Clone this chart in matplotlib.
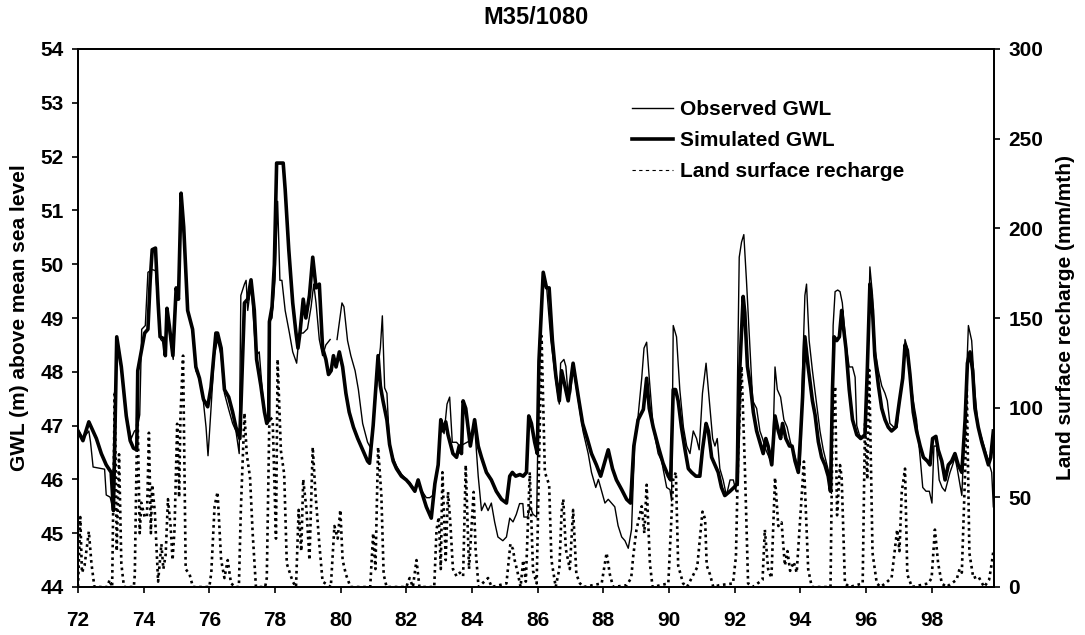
import numpy as np
import matplotlib
matplotlib.use('Agg')
import matplotlib.pyplot as plt
from matplotlib.lines import Line2D

plt.rcParams['font.family'] = ['Liberation Sans', 'DejaVu Sans']
plt.rcParams['font.weight'] = 'bold'

# observed groundwater level (m)
obs_year = [72.00, 72.15, 72.33, 72.38, 72.46, 72.81, 72.86, 72.98, 73.06, 73.18, 73.32, 73.47, 73.62, 73.72, 73.80,
            73.88, 73.94, 74.05, 74.13, 74.26, 74.36, 74.44, 74.52, 74.60, 74.66, 74.71, 74.80, 74.90, 74.99, 75.06,
            75.14, 75.24, 75.34, 75.49, 75.59, 75.70, 75.82, 75.90, 75.96, 76.05, 76.15, 76.25, 76.36, 76.46, 76.59,
            76.71, 76.81, 76.91, 76.96, 77.07, 77.12, 77.17, 77.27, 77.42, 77.52, 77.62, 77.71, 77.77, 77.83, 77.91,
            78.00, 78.08, 78.15, 78.21, 78.31, 78.44, 78.54, 78.66, 78.74, 78.86, 78.99, 79.10, 79.18, 79.25, 79.35,
            79.45, 79.55, 79.68, 79.78, 79.89, 80.04, 80.10, 80.21, 80.31, 80.44, 80.54, 80.67, 80.82, 80.90, 81.00,
            81.14, 81.21, 81.27, 81.34, 81.41, 81.49, 81.60, 81.70, 81.85, 82.00, 82.10, 82.26, 82.36, 82.46, 82.61,
            82.71, 82.80, 82.87, 82.97, 83.05, 83.15, 83.24, 83.32, 83.40, 83.53, 83.63, 83.73, 83.88, 83.95, 84.08,
            84.19, 84.29, 84.39, 84.49, 84.59, 84.69, 84.79, 84.94, 85.05, 85.15, 85.25, 85.35, 85.45, 85.55, 85.58,
            85.70, 85.76, 85.86, 85.97, 86.05, 86.17, 86.27, 86.40, 86.55, 86.66, 86.70, 86.80, 86.86, 86.93, 87.00,
            87.08, 87.24, 87.38, 87.54, 87.64, 87.77, 87.85, 87.95, 88.05, 88.15, 88.25, 88.35, 88.45, 88.56, 88.66,
            88.76, 88.86, 88.96, 89.06, 89.17, 89.24, 89.32, 89.40, 89.52, 89.67, 89.78, 89.82, 89.93, 90.03, 90.08,
            90.13, 90.23, 90.33, 90.44, 90.54, 90.64, 90.74, 90.84, 90.92, 91.02, 91.13, 91.23, 91.33, 91.40, 91.47,
            91.55, 91.65, 91.75, 91.86, 91.96, 92.04, 92.14, 92.21, 92.28, 92.36, 92.45, 92.55, 92.67, 92.77, 92.85,
            92.95, 93.05, 93.15, 93.23, 93.30, 93.40, 93.50, 93.60, 93.70, 93.81, 93.91, 94.00, 94.07, 94.14, 94.19,
            94.27, 94.37, 94.50, 94.60, 94.70, 94.80, 94.90, 94.95, 95.00, 95.06, 95.14, 95.21, 95.28, 95.39, 95.49,
            95.59, 95.67, 95.72, 95.80, 95.90, 96.00, 96.12, 96.20, 96.27, 96.38, 96.48, 96.58, 96.65, 96.73, 96.85,
            96.95, 97.02, 97.12, 97.19, 97.26, 97.34, 97.44, 97.54, 97.65, 97.73, 97.83, 97.93, 98.01, 98.07, 98.15,
            98.23, 98.32, 98.41, 98.56, 98.64, 98.71, 98.78, 98.92, 99.02, 99.12, 99.22, 99.32, 99.42, 99.53, 99.63,
            99.73, 99.83, 99.88]
obs_gwl = [46.93, 46.76, 46.90, 46.70, 46.23, 46.19, 45.71, 45.67, 45.45, 48.60, 48.05, 47.18, 46.76, 46.90, 46.93,
           47.20, 48.79, 48.86, 49.85, 49.90, 49.88, 49.25, 48.60, 48.55, 48.30, 49.10, 48.65, 48.23, 49.45, 49.35,
           50.90, 50.48, 49.14, 48.79, 48.02, 47.88, 47.44, 46.97, 46.44, 47.30, 48.30, 48.60, 48.30, 47.60, 47.30,
           47.04, 46.90, 46.48, 49.42, 49.63, 49.70, 49.14, 49.63, 48.30, 48.37, 47.60, 47.18, 47.10, 48.93, 49.00,
           49.70, 51.17, 49.70, 49.70, 49.14, 48.72, 48.37, 48.16, 48.72, 48.72, 48.80, 49.21, 49.63, 49.28, 48.60,
           48.30, 48.50, 48.60, np.nan, 48.60, 49.28, 49.21, 48.58, 48.30, 48.02, 47.67, 47.04, 46.69, 46.60, 47.05,
           48.10, 48.45, 49.04, 47.70, 47.60, 46.62, 46.40, 46.25, 46.10, 46.00, 45.95, 45.80, 45.92, 45.80, 45.66,
           45.66, 45.70, 45.95, 46.27, 47.11, 46.85, 47.40, 47.53, 46.69, 46.69, 46.62, 46.65, 46.70, 46.75, 47.00,
           46.06, 45.42, 45.56, 45.42, 45.56, 45.21, 44.93, 44.86, 44.93, 45.28, 45.21, 45.35, 45.55, 45.55, 45.30,
           45.30, 45.50, 45.35, 45.30, 48.50, 49.85, 49.60, 48.60, 47.85, 47.40, 48.16, 48.23, 48.10, 47.55, 47.60,
           48.10, 47.46, 46.90, 46.48, 46.13, 45.85, 46.00, 45.78, 45.56, 45.63, 45.56, 45.49, 45.14, 44.93, 44.86,
           44.72, 45.07, 46.76, 47.18, 47.88, 48.44, 48.55, 47.88, 46.97, 46.48, 46.34, 46.20, 45.85, 45.81, 45.60,
           48.86, 48.65, 47.67, 46.97, 46.62, 46.48, 46.90, 46.76, 46.55, 47.60, 48.16, 47.46, 46.76, 46.62, 46.76,
           46.20, 45.99, 45.70, 45.99, 45.99, 45.78, 50.13, 50.41, 50.55, 49.70, 48.65, 47.46, 47.32, 46.90, 46.76,
           46.55, 46.41, 46.27, 48.09, 47.67, 47.53, 47.11, 46.97, 46.69, 46.48, 46.27, 46.27, 48.02, 49.42, 49.63,
           48.58, 48.02, 47.39, 46.90, 46.55, 46.30, 46.06, 45.74, 48.86, 49.49, 49.52, 49.49, 49.28, 48.50, 48.09,
           48.09, 47.90, 47.00, 46.83, 46.76, 46.90, 49.95, 49.42, 48.44, 48.02, 47.74, 47.60, 47.46, 47.04, 46.97,
           46.97, 47.46, 47.88, 48.60, 48.45, 47.95, 47.46, 47.11, 46.41, 45.85, 45.78, 45.78, 45.56, 46.62, 46.62,
           45.99, 45.85, 45.78, 46.13, 46.27, 46.41, 46.20, 45.70, 47.20, 48.86, 48.58, 47.60, 46.97, 46.76, 46.55,
           46.34, 46.13, 45.49]

# simulated groundwater level (m)
sim_year = [72.00, 72.15, 72.33, 72.56, 72.71, 72.86, 73.01, 73.08, 73.18, 73.32, 73.47, 73.59, 73.69, 73.79, 73.82,
            74.03, 74.13, 74.20, 74.26, 74.36, 74.44, 74.50, 74.60, 74.66, 74.71, 74.78, 74.89, 74.99, 75.06, 75.14,
            75.22, 75.34, 75.49, 75.59, 75.70, 75.82, 75.95, 76.05, 76.20, 76.25, 76.36, 76.46, 76.59, 76.71, 76.81,
            76.93, 77.07, 77.17, 77.27, 77.37, 77.44, 77.57, 77.68, 77.75, 77.81, 77.83, 77.91, 77.98, 78.05, 78.15,
            78.25, 78.31, 78.42, 78.54, 78.64, 78.70, 78.76, 78.86, 78.94, 79.05, 79.15, 79.25, 79.35, 79.45, 79.55,
            79.63, 79.71, 79.78, 79.86, 79.96, 80.06, 80.16, 80.26, 80.39, 80.52, 80.67, 80.82, 80.88, 80.99, 81.14,
            81.21, 81.29, 81.41, 81.49, 81.60, 81.70, 81.85, 82.00, 82.10, 82.26, 82.36, 82.46, 82.61, 82.71, 82.76,
            82.87, 82.97, 83.05, 83.12, 83.20, 83.27, 83.42, 83.53, 83.61, 83.68, 83.73, 83.81, 83.88, 83.95, 84.08,
            84.19, 84.29, 84.44, 84.59, 84.74, 84.90, 85.05, 85.15, 85.23, 85.33, 85.46, 85.56, 85.66, 85.73, 85.81,
            85.91, 85.99, 86.04, 86.17, 86.27, 86.35, 86.45, 86.55, 86.66, 86.73, 86.83, 86.93, 87.08, 87.24, 87.37,
            87.51, 87.64, 87.79, 87.92, 88.02, 88.15, 88.28, 88.40, 88.56, 88.71, 88.83, 88.93, 89.06, 89.22, 89.32,
            89.40, 89.52, 89.67, 89.82, 89.98, 90.05, 90.13, 90.20, 90.28, 90.38, 90.49, 90.59, 90.69, 90.82, 90.94,
            91.02, 91.13, 91.20, 91.30, 91.40, 91.50, 91.60, 91.70, 91.86, 91.98, 92.08, 92.16, 92.26, 92.31, 92.39,
            92.49, 92.57, 92.67, 92.77, 92.87, 92.95, 93.02, 93.13, 93.23, 93.33, 93.40, 93.46, 93.56, 93.67, 93.75,
            93.84, 93.94, 94.01, 94.07, 94.14, 94.24, 94.37, 94.45, 94.55, 94.65, 94.75, 94.85, 94.92, 94.98, 95.03,
            95.11, 95.19, 95.26, 95.30, 95.39, 95.49, 95.59, 95.72, 95.84, 95.97, 96.04, 96.12, 96.20, 96.27, 96.38,
            96.48, 96.58, 96.68, 96.78, 96.91, 97.02, 97.12, 97.19, 97.26, 97.34, 97.44, 97.54, 97.65, 97.75, 97.87,
            97.95, 98.03, 98.13, 98.20, 98.31, 98.41, 98.51, 98.61, 98.71, 98.81, 98.92, 99.02, 99.09, 99.17, 99.25,
            99.32, 99.42, 99.53, 99.63, 99.73, 99.80, 99.88]
sim_gwl = [46.90, 46.72, 47.07, 46.76, 46.48, 46.27, 46.13, 45.42, 48.65, 48.09, 47.18, 46.72, 46.58, 46.55, 48.02,
           48.72, 48.79, 49.71, 50.27, 50.30, 49.28, 48.65, 48.62, 48.30, 49.18, 48.86, 48.30, 49.56, 49.35, 51.32,
           50.69, 49.14, 48.79, 48.09, 47.88, 47.49, 47.35, 47.71, 48.72, 48.72, 48.44, 47.67, 47.53, 47.25, 46.97,
           46.76, 49.28, 49.35, 49.71, 49.14, 48.23, 47.74, 47.25, 47.04, 47.11, 48.93, 49.21, 49.99, 51.88, 51.88,
           51.88, 51.39, 50.27, 49.28, 48.72, 48.44, 48.72, 49.35, 49.00, 49.42, 50.13, 49.56, 49.63, 48.44, 48.23,
           47.95, 48.02, 48.30, 48.09, 48.37, 48.09, 47.60, 47.25, 46.97, 46.76, 46.55, 46.34, 46.30, 47.00, 48.30,
           47.74, 47.46, 47.10, 46.65, 46.34, 46.20, 46.06, 45.99, 45.92, 45.78, 45.99, 45.78, 45.49, 45.35, 45.28,
           45.92, 46.27, 47.11, 46.90, 47.07, 46.83, 46.48, 46.41, 46.62, 46.48, 47.46, 47.32, 46.97, 46.62, 47.11,
           46.62, 46.41, 46.13, 45.99, 45.78, 45.63, 45.56, 46.06, 46.13, 46.06, 46.09, 46.06, 46.13, 47.18, 47.04,
           46.69, 46.48, 48.20, 49.85, 49.56, 49.56, 48.58, 47.95, 47.46, 48.02, 47.74, 47.46, 48.16, 47.53, 47.04,
           46.76, 46.48, 46.27, 46.06, 46.27, 46.55, 46.20, 45.99, 45.81, 45.63, 45.56, 46.62, 47.11, 47.30, 47.88,
           47.32, 46.97, 46.62, 46.30, 46.06, 45.99, 47.67, 47.67, 47.46, 46.97, 46.55, 46.20, 46.13, 46.06, 46.06,
           46.55, 47.04, 46.90, 46.41, 46.27, 46.13, 45.85, 45.70, 45.78, 45.85, 45.92, 48.09, 49.40, 49.10, 48.10,
           47.70, 47.25, 46.90, 46.69, 46.48, 46.76, 46.62, 46.27, 47.18, 46.90, 46.76, 47.04, 46.76, 46.62, 46.62,
           46.34, 46.13, 46.83, 47.53, 48.65, 48.09, 47.46, 47.20, 46.70, 46.41, 46.27, 46.06, 45.78, 47.67, 48.65,
           48.58, 48.65, 49.14, 48.90, 48.44, 47.67, 47.11, 46.83, 46.76, 46.83, 48.02, 49.63, 49.14, 48.30, 47.74,
           47.32, 47.11, 46.97, 46.90, 46.97, 47.46, 47.88, 48.50, 48.40, 47.95, 47.25, 46.90, 46.62, 46.41, 46.34,
           46.27, 46.76, 46.80, 46.55, 46.34, 45.99, 46.27, 46.34, 46.48, 46.27, 46.13, 47.11, 48.16, 48.37, 48.02,
           47.32, 46.97, 46.69, 46.48, 46.27, 46.41, 46.90]

# land surface recharge (mm/mth)
rch_year = [72.00, 72.07, 72.12, 72.20, 72.33, 72.41, 72.50, 72.90, 72.96, 73.04, 73.12, 73.18, 73.25, 73.32, 73.40,
            73.70, 73.73, 73.81, 73.88, 73.93, 74.03, 74.10, 74.16, 74.22, 74.26, 74.34, 74.44, 74.54, 74.60, 74.67,
            74.74, 74.82, 74.88, 74.94, 75.02, 75.08, 75.12, 75.20, 75.28, 75.40, 75.50, 76.00, 76.06, 76.16, 76.25,
            76.36, 76.46, 76.56, 76.66, 76.80, 76.90, 76.96, 77.07, 77.14, 77.24, 77.32, 77.42, 77.70, 77.75, 77.83,
            77.93, 78.03, 78.08, 78.18, 78.28, 78.36, 78.54, 78.64, 78.72, 78.80, 78.86, 78.96, 79.05, 79.15, 79.23,
            79.35, 79.45, 79.70, 79.81, 79.91, 79.99, 80.06, 80.16, 80.30, 80.90, 80.99, 81.06, 81.14, 81.24, 81.31,
            81.40, 82.00, 82.10, 82.20, 82.31, 82.40, 82.85, 82.92, 82.99, 83.05, 83.10, 83.20, 83.27, 83.34, 83.42,
            83.53, 83.63, 83.73, 83.81, 83.91, 84.05, 84.11, 84.20, 84.49, 84.60, 85.05, 85.17, 85.25, 85.30, 85.38,
            85.48, 85.56, 85.64, 85.76, 85.86, 85.97, 86.05, 86.12, 86.22, 86.35, 86.42, 86.55, 86.66, 86.73, 86.78,
            86.86, 86.98, 87.08, 87.18, 87.29, 87.40, 87.95, 88.10, 88.20, 88.30, 88.71, 88.85, 88.91, 89.01, 89.17,
            89.25, 89.32, 89.42, 89.50, 89.98, 90.13, 90.21, 90.28, 90.43, 90.55, 90.86, 91.02, 91.10, 91.15, 91.25,
            91.35, 91.53, 91.95, 92.04, 92.11, 92.21, 92.31, 92.41, 92.55, 92.85, 92.92, 93.02, 93.12, 93.23, 93.33,
            93.43, 93.53, 93.61, 93.69, 93.80, 93.89, 94.01, 94.11, 94.24, 94.35, 94.92, 94.98, 95.06, 95.12, 95.21,
            95.26, 95.36, 95.50, 95.90, 95.97, 96.04, 96.10, 96.20, 96.33, 96.45, 96.78, 96.95, 97.02, 97.09, 97.19,
            97.26, 97.40, 97.90, 98.00, 98.10, 98.20, 98.31, 98.45, 98.76, 98.85, 98.92, 99.02, 99.07, 99.15, 99.27,
            99.42, 99.60, 99.75, 99.83, 99.88]
rch_mm = [0, 39, 8, 12, 31, 13, 0, 0, 4, 0, 109, 20, 74, 13, 0,
          0, 7, 101, 30, 47, 39, 39, 86, 30, 57, 42, 3, 24, 10, 18,
          49, 34, 15, 32, 91, 50, 95, 129, 10, 7, 0, 0, 8, 45, 53,
          15, 5, 15, 2, 0, 0, 43, 97, 74, 61, 30, 0, 0, 5, 95,
          93, 27, 127, 76, 63, 13, 3, 0, 43, 20, 60, 43, 15, 78, 53,
          24, 3, 0, 34, 27, 43, 15, 7, 0, 0, 30, 10, 78, 51, 7,
          0, 0, 5, 0, 15, 0, 0, 32, 39, 10, 64, 15, 53, 36, 10,
          6, 8, 6, 68, 10, 53, 21, 0, 5, 0, 2, 24, 21, 15, 9,
          0, 15, 3, 64, 9, 2, 74, 140, 64, 57, 15, 0, 10, 42, 49,
          21, 10, 43, 7, 2, 0, 2, 19, 7, 0, 1, 5, 17, 32, 45,
          30, 57, 13, 0, 2, 60, 64, 12, 2, 0, 11, 42, 38, 12, 7,
          0, 1, 2, 17, 76, 123, 68, 2, 0, 4, 32, 10, 5, 61, 34,
          36, 12, 20, 9, 14, 8, 42, 70, 10, 0, 0, 87, 112, 40, 68,
          61, 2, 0, 2, 91, 60, 121, 19, 2, 0, 5, 32, 20, 53, 66,
          7, 0, 2, 5, 32, 13, 2, 0, 4, 10, 8, 64, 112, 19, 5,
          6, 0, 4, 13, 20]

fig = plt.figure(figsize=(10.85, 6.35), dpi=100)
ax = fig.add_axes([78/1085, 1 - 587/635, 916/1085, 538/635])
ax2 = ax.twinx()

ax2.plot(rch_year, rch_mm, color='black', lw=1.9, linestyle=(0, (1.0, 1.4)))
ax.plot(obs_year, obs_gwl, color='black', lw=1.0)
ax.plot(sim_year, sim_gwl, color='black', lw=2.6)

ax.set_zorder(ax2.get_zorder() + 1)
ax.patch.set_visible(False)

ax.set_xlim(72, 99.9)
ax.set_ylim(44, 54)
ax2.set_ylim(0, 300)
ax.set_xticks(np.arange(72, 100, 2))
ax.set_yticks(np.arange(44, 55, 1))
ax2.set_yticks(np.arange(0, 301, 50))

for a in (ax, ax2):
    a.tick_params(direction='out', length=4.5, width=1.2, labelsize=15, pad=6)
    for s in a.spines.values():
        s.set_linewidth(1.3)
ax.tick_params(axis='x', pad=12.5)

ax.set_ylabel('GWL (m) above mean sea level', fontsize=15, fontweight='bold', labelpad=8)
ax2.set_ylabel('Land surface recharge (mm/mth)', fontsize=15, fontweight='bold', labelpad=9)
ax.set_title('M35/1080', fontsize=17, fontweight='bold', pad=18)

handles = [Line2D([], [], color='black', lw=1.0),
           Line2D([], [], color='black', lw=2.6),
           Line2D([], [], color='black', lw=0.8, linestyle=(0, (3, 3)))]
ax.legend(handles, ['Observed GWL', 'Simulated GWL', 'Land surface recharge'],
          loc='upper left', bbox_to_anchor=(0.605, 0.905), frameon=False,
          fontsize=15, handlelength=1.97, handletextpad=0.34, labelspacing=0.57,
          borderaxespad=0, borderpad=0)

fig.savefig('out.png', dpi=100)
